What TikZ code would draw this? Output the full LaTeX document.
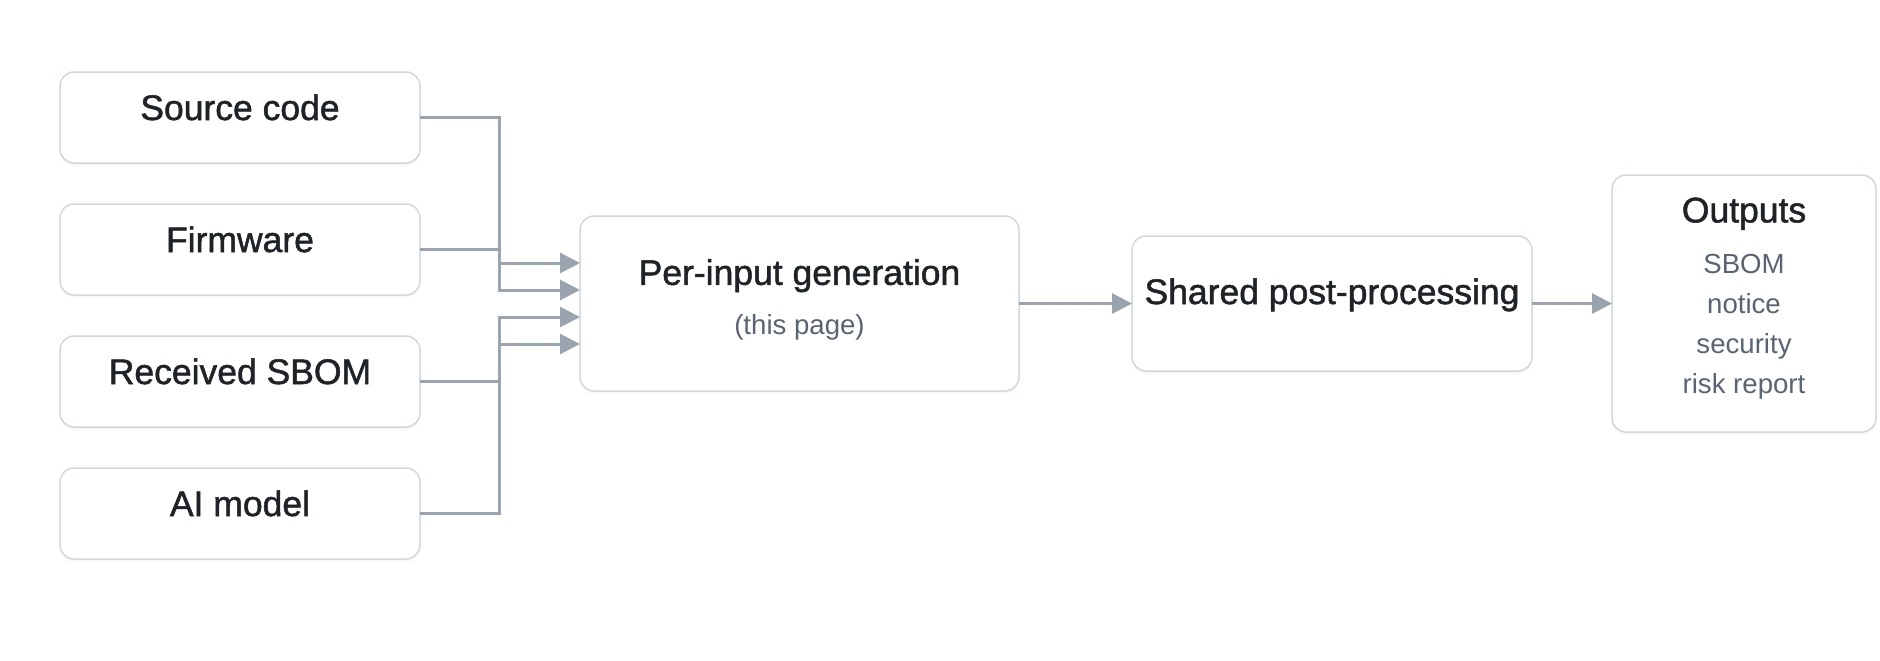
\documentclass[tikz,border=0pt]{standalone}
\usepackage{fontspec}
\setmainfont{Liberation Sans}
\newfontfamily\headfont[FakeBold=1.4]{Liberation Sans}
\usetikzlibrary{positioning,arrows.meta,shadows}
\definecolor{boxline}{HTML}{D0D7DE}
\definecolor{headtext}{HTML}{1F2328}
\definecolor{subtext}{HTML}{5A6573}
\definecolor{arrowgray}{HTML}{9AA4AF}
\tikzset{block/.style={draw=boxline,line width=0.75pt,rounded corners=7pt,fill=white,
           drop shadow={shadow xshift=0pt,shadow yshift=-1.5pt,opacity=0.06},
           inner sep=0pt,outer sep=0pt,align=center,text=headtext,
           font=\headfont\fontsize{17.75}{24}\selectfont},
         inbox/.style={block,minimum width=180pt,text height=24pt,text depth=21.5pt},
         line/.style={-{Triangle[length=10pt,width=10pt]},draw=arrowgray,line width=1.5pt}
}
\newcommand\subline[1]{{\rmfamily\color{subtext}\fontsize{13.8}{20}\selectfont #1}}

\begin{document}
\begin{tikzpicture}
  \useasboundingbox (0,0) rectangle (940pt,-330pt);
  \node[inbox] (src) at (120pt,-58.75pt) {Source code};
  \node[inbox,below=20.5pt of src] (fw) {Firmware};
  \node[inbox,below=20.5pt of fw] (rcv) {Received SBOM};
  \node[inbox,below=20.5pt of rcv] (ai) {AI model};
  \node[block,minimum width=219.5pt,minimum height=87.5pt,text depth=6.5pt] (per) at (399.75pt,-151.75pt)
    {Per-input generation\\[1pt]\subline{(this page)}};
  \node[block,right=56.5pt of per,minimum width=200pt,text height=34pt,text depth=33.5pt] (shared)
    {Shared post-processing};
  \node[block,right=40pt of shared,minimum width=132pt,minimum height=128.5pt,text depth=8pt] (out)
    {Outputs\\[1.5pt]\subline{SBOM}\\[-4pt]\subline{notice}\\[-4pt]\subline{security}\\[-4pt]\subline{risk report}};
  \draw[line] (src.east) -- ++(39.5pt,0) |- ([yshift=20.25pt]per.west);
  \draw[line] (fw.east) -- ++(39.5pt,0) |- ([yshift=6.75pt]per.west);
  \draw[line] (rcv.east) -- ++(39.5pt,0) |- ([yshift=-20.25pt]per.west);
  \draw[line] (ai.east) -- ++(39.5pt,0) |- ([yshift=-6.75pt]per.west);
  \draw[line] (per) -- (shared);
  \draw[line] (shared) -- (out);
\end{tikzpicture}
\end{document}
